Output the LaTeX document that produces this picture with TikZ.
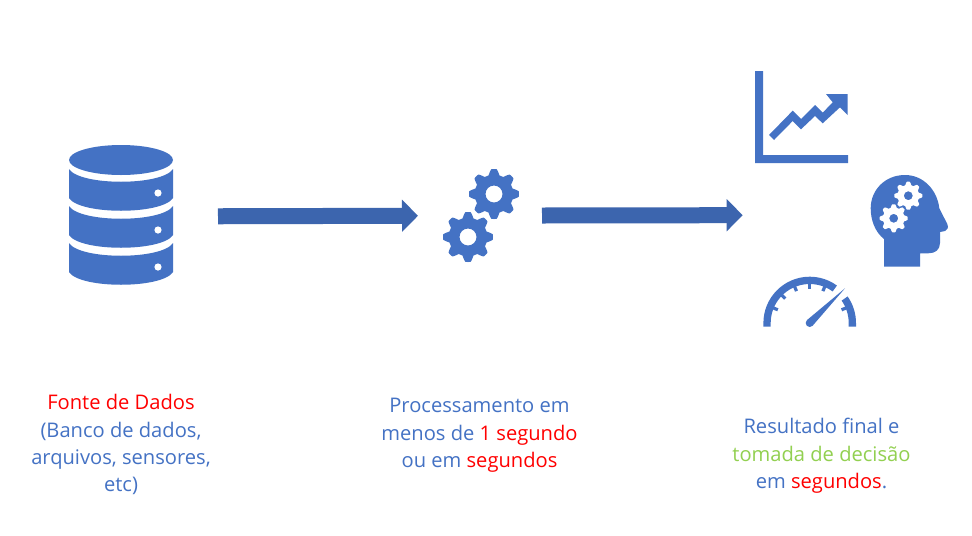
\documentclass[tikz,border=0pt]{standalone}
\usepackage{fontspec}
\setmainfont{Open Sans}
\usetikzlibrary{arrows.meta}
\definecolor{iconblue}{HTML}{4472C4}
\definecolor{arrowblue}{HTML}{3C65AE}
\definecolor{txtred}{HTML}{FF0000}
\definecolor{txtgreen}{HTML}{92D050}
\tikzset{
  iconfill/.style={fill=iconblue,draw=none},
  holder/.style={draw=none,fill=none,inner sep=0pt,outer sep=0pt},
  bigarrow/.style={draw=arrowblue,line width=12pt,-{Triangle[length=12pt,width=23.5pt,fill=arrowblue]}},
  caption/.style={align=center,inner sep=0pt,text=iconblue,font=\fontsize{15.1pt}{20.6pt}\selectfont,anchor=north}
}
\newcommand{\gearicon}[5]{%
  \fill[fill=#5,even odd rule,shift={(#1,#2)}]
    plot[domain=0:360,samples=193,variable=\t]
      ({#3*(0.885+0.115*max(-1,min(1,1.5*cos(8*\t))))*cos(\t)},{#3*(0.885+0.115*max(-1,min(1,1.5*cos(8*\t))))*sin(\t)})
    -- cycle (0,0) circle[radius=#4];}
\newcommand{\dbband}[4]{%
  \fill[iconfill] (69,#1) .. controls (80,#2) and (162,#2) .. (173,#1) -- (173,#3)
    .. controls (162,#4) and (80,#4) .. (69,#3) -- cycle;}
\begin{document}
\begin{tikzpicture}[x=0.75pt,y=-0.75pt]
\fill[white] (0,0) rectangle (972,536);
\useasboundingbox (0,0) rectangle (972,536);
% database
\fill[iconfill] (121,160) ellipse[x radius=52,y radius=15];
\dbband{169}{186}{198}{215}
\dbband{206}{223}{235}{252}
\dbband{243}{260}{272}{289}
\foreach \yy in {193,230,267} \fill[white] (158,\yy) circle[radius=3.6];
\node[holder,minimum width=78pt,minimum height=105pt] (db) at (121,216.5) {};
% gears
\gearicon{494}{194}{25}{8.5}{iconblue}
\fill[white,shift={(468,237)}] (0,0) circle[radius=24];
\gearicon{468}{237}{25}{8.5}{iconblue}
\node[holder,minimum width=57pt,minimum height=70pt] (gears) at (481,215.6) {};
% chart
\fill[iconfill] (755,71) -- (763,71) -- (763,155) -- (848,155) -- (848,163) -- (755,163) -- cycle;
\fill[iconfill] (769,135) -- (792.7,110.7) -- (801,119) -- (815,105) -- (822.7,112.7) -- (832.7,102.3)
  -- (826,94) -- (847.7,94) -- (847.7,115) -- (840,107.3) -- (822.7,123.3) -- (815,116) -- (801,129.3) -- (792.7,121) -- (774,140) -- cycle;
% head
\fill[iconfill] (884,266.7) -- (884,239) .. controls (875,232) and (870.7,220) .. (870.7,208.3)
  .. controls (870.7,190) and (885,175) .. (905,175) .. controls (923.3,175) and (937.3,190) .. (939.3,208.3)
  -- (947.3,224) .. controls (949,228) and (947,230) .. (945,231) -- (940,232) -- (940,243)
  .. controls (940,250) and (935,253.3) .. (928.3,253.3) -- (920,253.3) -- (920,266.7) -- cycle;
\gearicon{908.3}{195.7}{14}{4.5}{white}
\gearicon{893.7}{218.3}{14}{4.5}{white}
% gauge
\begin{scope}[shift={(809.7,323)}]
\fill[iconfill] (-46.3,3.7) -- (-180:46.3) arc[start angle=-180,end angle=-54,radius=46.3]
  -- (-54:39) arc[start angle=-54,end angle=-180,radius=39] -- (-39,3.7) -- cycle;
\fill[iconfill] (46.3,3.7) -- (0:46.3) arc[start angle=0,end angle=-35,radius=46.3]
  -- (-35:39) arc[start angle=-35,end angle=0,radius=39] -- (39,3.7) -- cycle;
\foreach \a in {22.5,67.5,90,112.5,135,157.5}
  \draw[iconblue,line width=2.4pt] (-\a:40) -- (-\a:34.5);
\fill[iconfill] (35.3,-34.7) -- (45.5:4) arc[start angle=45.5,end angle=225.5,radius=4] -- cycle;
\end{scope}
\node[holder,minimum width=146pt,minimum height=200pt] (result) at (851,215) {};
% arrows
\draw[bigarrow,shorten <=33.75pt,shorten >=18.75pt] (db) -- (gears);
\draw[bigarrow,shorten <=17.25pt,shorten >=8.25pt] (gears) -- (result);
% captions
\node[caption] (cap1) at (121,394) {\textcolor{txtred}{Fonte de Dados}\\(Banco de dados,\\arquivos, sensores,\\etc)};
\node[caption] (cap2) at (479.5,398) {Processamento em\\menos de \textcolor{txtred}{1 segundo}\\ou em \textcolor{txtred}{segundos}};
\node[caption] (cap3) at (821.5,418) {Resultado final e\\\textcolor{txtgreen}{tomada de decisão}\\em \textcolor{txtred}{segundos}.};
\end{tikzpicture}
\end{document}
